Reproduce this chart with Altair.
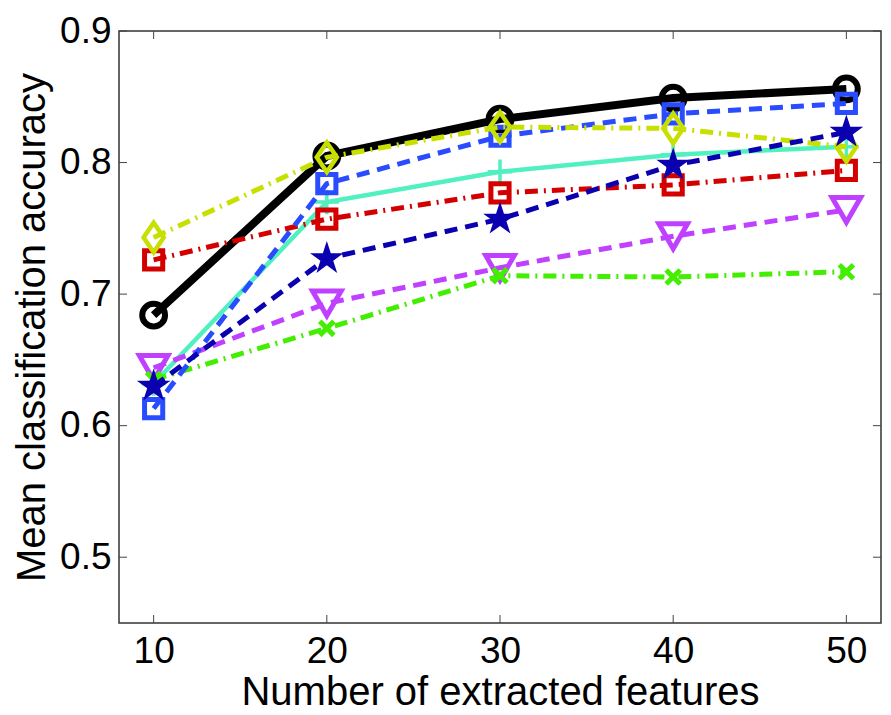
import altair as alt
import pandas as pd

features = [10, 20, 30, 40, 50]

acc_black = [0.684, 0.805, 0.833, 0.849, 0.856]
acc_blue = [0.613, 0.784, 0.820, 0.837, 0.845]
acc_yellow = [0.743, 0.804, 0.827, 0.826, 0.812]
acc_cyan = [0.632, 0.770, 0.793, 0.806, 0.812]
acc_red = [0.726, 0.757, 0.777, 0.783, 0.794]
acc_navy = [0.630, 0.727, 0.757, 0.798, 0.823]
acc_purple = [0.644, 0.693, 0.720, 0.744, 0.764]
acc_green = [0.635, 0.674, 0.714, 0.713, 0.717]

x_ticks = [10, 20, 30, 40, 50]
y_ticks = [0.5, 0.6, 0.7, 0.8, 0.9]

W, H = 762, 592
FONT = "Liberation Sans"

STAR = ("M0,-1L0.2245,-0.309L0.951,-0.309L0.363,0.118L0.588,0.809L0,0.382"
        "L-0.588,0.809L-0.363,0.118L-0.951,-0.309L-0.2245,-0.309Z")
XMARK = "M-1,-1L1,1M-1,1L1,-1"
PLUS = "M-1,0L1,0M0,-1L0,1"
DIAMOND = "M0,-1.25L0.85,0L0,1.25L-0.85,0Z"

DASH = [13, 8]
DASHDOT = [13, 6, 2, 6]

xscale = alt.Scale(domain=[8, 52], nice=False, zero=False)
yscale = alt.Scale(domain=[0.45, 0.9], nice=False, zero=False)

series = [
    # values, color, line width, dash, shape, size, filled, marker stroke width
    (acc_black, "#000000", 8, None, "circle", 520, False, 6),
    (acc_cyan, "#50f0c0", 4.5, None, PLUS, 600, False, 3.5),
    (acc_red, "#d40000", 5, DASHDOT, "square", 330, False, 5),
    (acc_purple, "#c040ff", 5, DASH, "triangle-down", 820, False, 5),
    (acc_green, "#44ee00", 5, DASHDOT, XMARK, 200, False, 5),
    (acc_blue, "#2a4cff", 5, DASH, "square", 330, False, 5),
    (acc_yellow, "#c8e000", 5, DASHDOT, DIAMOND, 560, False, 4.5),
    (acc_navy, "#0a00b0", 5, DASH, STAR, 1250, True, 1),
]

layers = []
for vals, color, lw, dash, shape, size, filled, msw in series:
    df = pd.DataFrame({"x": features, "y": vals})
    base = alt.Chart(df)
    line_kwargs = dict(color=color, strokeWidth=lw, clip=True)
    if dash is not None:
        line_kwargs["strokeDash"] = dash
    line = base.mark_line(**line_kwargs).encode(
        x=alt.X("x:Q", scale=xscale),
        y=alt.Y("y:Q", scale=yscale),
    )
    pt = base.mark_point(shape=shape, size=size, filled=filled, color=color,
                         opacity=1, strokeWidth=msw).encode(
        x=alt.X("x:Q", scale=xscale), y=alt.Y("y:Q", scale=yscale))
    layers.append(line)
    layers.append(pt)

xt = pd.DataFrame({"t": x_ticks})
yt = pd.DataFrame({"t": y_ticks})
tick_color = "#444444"
tick_layers = [
    alt.Chart(xt).mark_rule(color=tick_color, strokeWidth=1).encode(
        x=alt.X("t:Q", scale=xscale), y=alt.value(H), y2=alt.value(H - 8)),
    alt.Chart(xt).mark_rule(color=tick_color, strokeWidth=1).encode(
        x=alt.X("t:Q", scale=xscale), y=alt.value(0), y2=alt.value(8)),
    alt.Chart(yt).mark_rule(color=tick_color, strokeWidth=1).encode(
        y=alt.Y("t:Q", scale=yscale), x=alt.value(0), x2=alt.value(8)),
    alt.Chart(yt).mark_rule(color=tick_color, strokeWidth=1).encode(
        y=alt.Y("t:Q", scale=yscale), x=alt.value(W), x2=alt.value(W - 8)),
]

chart = alt.layer(*tick_layers, *layers).encode(
    x=alt.X("x:Q", scale=xscale, title="Number of extracted features",
            axis=alt.Axis(values=x_ticks, format="d")),
    y=alt.Y("y:Q", scale=yscale, title="Mean classification accuracy",
            axis=alt.Axis(values=y_ticks, format=".1f")),
).properties(
    width=W, height=H,
    padding={"left": 4, "top": 4, "right": 0, "bottom": 0},
).configure_view(
    stroke="#333333", strokeWidth=1.5,
).configure_axis(
    grid=False, domain=False, ticks=False, tickSize=0,
    labelFont=FONT, titleFont=FONT, labelFontSize=37, titleFontSize=40,
    labelColor="#000000", titleColor="#000000", titleFontWeight="normal",
).configure_axisX(
    titlePadding=3, labelPadding=10,
).configure_axisY(
    titlePadding=7, labelPadding=8,
)

chart.save("out.html", embed_options={"renderer": "svg", "actions": False})
